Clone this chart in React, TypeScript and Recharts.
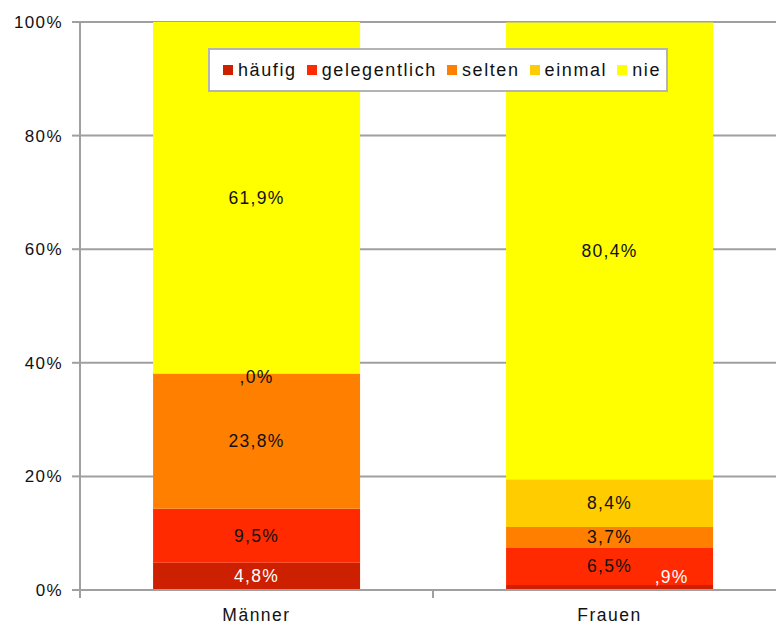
import React from 'react';
import { BarChart, Bar, XAxis, YAxis, CartesianGrid, LabelList } from 'recharts';

const categories = ['Männer', 'Frauen'];
const haeufig = [4.8, 0.9];
const gelegentlich = [9.5, 6.5];
const selten = [23.8, 3.7];
const einmal = [0.0, 8.4];
const nie = [61.9, 80.4];
const yTicks = [0, 20, 40, 60, 80, 100];

const series = [
  { key: 'haeufig', name: 'häufig', color: '#cc2000', values: haeufig, labelColor: '#ffffff' },
  { key: 'gelegentlich', name: 'gelegentlich', color: '#ff2a00', values: gelegentlich, labelColor: '#111' },
  { key: 'selten', name: 'selten', color: '#ff7f00', values: selten, labelColor: '#111' },
  { key: 'einmal', name: 'einmal', color: '#ffcc00', values: einmal, labelColor: '#111' },
  { key: 'nie', name: 'nie', color: '#ffff00', values: nie, labelColor: '#111' },
];

const data = categories.map((c, i) => {
  const row: any = { name: c };
  series.forEach((s) => (row[s.key] = s.values[i]));
  return row;
});

const font = '"Liberation Sans", Arial, sans-serif';

const fmt = (v: number) => {
  let s = v.toFixed(1).replace('.', ',');
  if (s.startsWith('0,')) s = s.slice(1);
  return s + '%';
};

const Txt = ({ x, y, color, children }: any) => (
  <text x={x} y={y} textAnchor="middle" dominantBaseline="central" fill={color}
    fontSize={17.5} fontFamily={font} letterSpacing={1.3}>
    {children}
  </text>
);

const makeLabel = (key: string, color: string) => (props: any) => {
  const { x, y, width, height, value, index } = props;
  let cx = x + width / 2;
  let cy = y + height / 2;
  if (value === 0) return null;
  // tiny non-zero segment: label pushed to the right, above
  if (height < 12) {
    cx = x + width * 0.8;
    cy = y + height / 2 - 10;
  }
  const extra = key === 'nie' && data[index].einmal === 0;
  return (
    <g>
      <Txt x={cx} y={cy} color={color}>{fmt(value)}</Txt>
      {/* zero-height "einmal" segment sits at the bottom edge of "nie" */}
      {extra && <Txt x={cx} y={y + height + 3} color="#111">{fmt(data[index].einmal)}</Txt>}
    </g>
  );
};

const XTick = (props: any) => {
  const { x, y, payload, width } = props;
  const band = width / categories.length;
  const ay = y - 8; // axis line position
  return (
    <g>
      <line x1={x + band / 2} x2={x + band / 2} y1={ay} y2={ay + 8} stroke="#a0a0a0" strokeWidth={2} />
      {payload.index === 0 && (
        <line x1={x - band / 2} x2={x - band / 2} y1={ay} y2={ay + 8} stroke="#a0a0a0" strokeWidth={2} />
      )}
      <text x={x} y={ay + 31} textAnchor="middle" fill="#111" fontSize={17.5} fontFamily={font} letterSpacing={1.5}>
        {payload.value}
      </text>
    </g>
  );
};

const LegendBox = () => (
  <div style={{
    position: 'absolute', left: 208, top: 48, width: 460, height: 44, background: '#fff',
    border: '2px solid #b4b4b4', display: 'flex', alignItems: 'center', paddingLeft: 13,
    boxSizing: 'border-box', fontFamily: font, fontSize: 18, color: '#111', letterSpacing: 1.6,
  }}>
    {series.map((s) => (
      <div key={s.key} style={{ display: 'flex', alignItems: 'center', marginRight: 10 }}>
        <div style={{ width: 10, height: 10, background: s.color, marginRight: 5 }} />
        <span>{s.name}</span>
      </div>
    ))}
  </div>
);

const App = () => {
  return (
    <div style={{ position: 'fixed', left: 0, top: 0, width: 776, height: 627, overflow: 'hidden', background: '#fff' }}>
      <BarChart width={776} height={627} data={data} barCategoryGap="20.7%"
        margin={{ top: 22, right: -10, left: 0, bottom: 0 }}>
        <CartesianGrid vertical={false} stroke="#a0a0a0" strokeWidth={2} />
        <XAxis dataKey="name" height={37} axisLine={{ stroke: '#a0a0a0', strokeWidth: 2 }}
          tickLine={false} tick={<XTick />} interval={0} />
        <YAxis width={80} domain={[0, 100]} ticks={yTicks} interval={0}
          tickFormatter={(v: number) => v + '%'}
          axisLine={{ stroke: '#a0a0a0', strokeWidth: 2 }}
          tickLine={{ stroke: '#a0a0a0', strokeWidth: 2 }} tickSize={8} tickMargin={9}
          tick={{ fill: '#111', fontSize: 17, fontFamily: font, letterSpacing: 1.4 } as any} />
        {series.map((s) => (
          <Bar key={s.key} dataKey={s.key} name={s.name} stackId="a" fill={s.color} isAnimationActive={false}>
            <LabelList dataKey={s.key} content={makeLabel(s.key, s.labelColor)} />
          </Bar>
        ))}
      </BarChart>
      <LegendBox />
    </div>
  );
};

export default App;
